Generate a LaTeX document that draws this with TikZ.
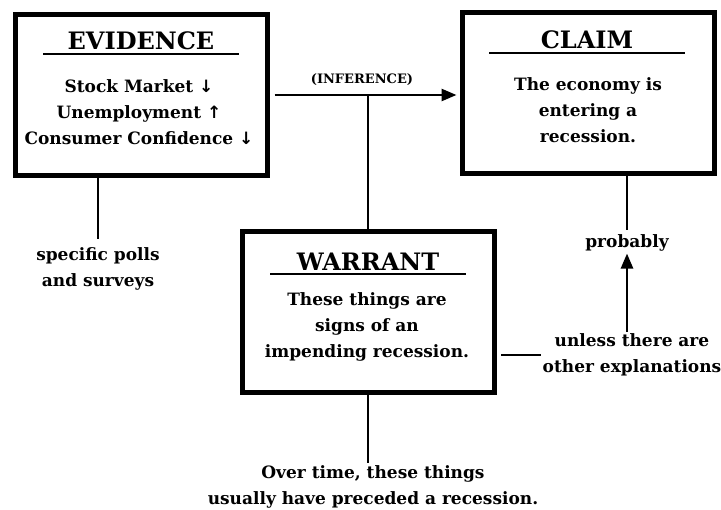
\documentclass[tikz,border=0pt]{standalone}
\usepackage{fontspec}
\setmainfont{DejaVu Serif}
\newfontfamily\arrowfont{DejaVu Sans}
\usetikzlibrary{arrows.meta}

\begin{document}
\begin{tikzpicture}[x=1pt,y=-1pt,
  box/.style={draw,line width=5pt,minimum width=252pt,minimum height=161pt},
  head/.style={font=\fontsize{24}{26}\selectfont\bfseries,minimum width=195pt,inner sep=3pt,anchor=base},
  txt/.style={font=\fontsize{17}{26}\selectfont\bfseries,align=center,inner sep=2pt},
  wire/.style={line width=2.6pt},
  tip/.style={wire,-{Triangle[length=15pt,width=12pt]}}]

\useasboundingbox (0,0) rectangle (721,510);

%% Boxes
\node [box] (ev) at (141,95) {};
\node [box] (cl) at (588,93) {};
\node [box] (wa) at (368,312) {};

%% Headings
\node [head] (evh) at (141,50) {EVIDENCE};
\node [head] (clh) at (587,49) {CLAIM};
\node [head] (wah) at (368,271) {WARRANT};
\draw [line width=2pt] (evh.south west) -- (evh.south east);
\draw [line width=2pt] (clh.south west) -- (clh.south east);
\draw [line width=2pt] (wah.south west) -- (wah.south east);

%% Box texts
\node [txt] (evt) at (139,112) {Stock Market {\arrowfont↓}\\Unemployment {\arrowfont↑}\\Consumer Confidence {\arrowfont↓}};
\node [txt] (clt) at (588,110) {The economy is\\entering a\\recession.};
\node [txt] (wat) at (367,327) {These things are\\signs of an\\impending recession.};

%% Labels
\node [txt,font=\fontsize{13}{14}\selectfont\bfseries] (inf) at (362,80) {(INFERENCE)};
\node [txt] (pol) at (98,269) {specific polls\\and surveys};
\node [txt] (prob) at (627,243) {probably};
\node [txt] (unl) at (632,355) {unless there are\\other explanations};
\node [txt] (ovr) at (373,487) {Over time, these things\\usually have preceded a recession.};

%% Connectors
\draw [tip,shorten <=5pt,shorten >=3pt] (ev.east) -- (ev.east -| cl.west);
\draw [wire] (wa.north) -- (wa.north |- ev.east);
\draw [wire,shorten >=6pt] (ev.south -| pol.north) -- (pol.north);
\draw [wire,shorten >=2pt] (cl.south -| prob.north) -- (prob.north);
\draw [tip] (prob.south |- unl.north) -- (prob.south);
\draw [wire,shorten >=4pt] (unl.west) -- (unl.west -| wa.east);
\draw [wire] (wa.south) -- (wa.south |- ovr.north);

\end{tikzpicture}
\end{document}
